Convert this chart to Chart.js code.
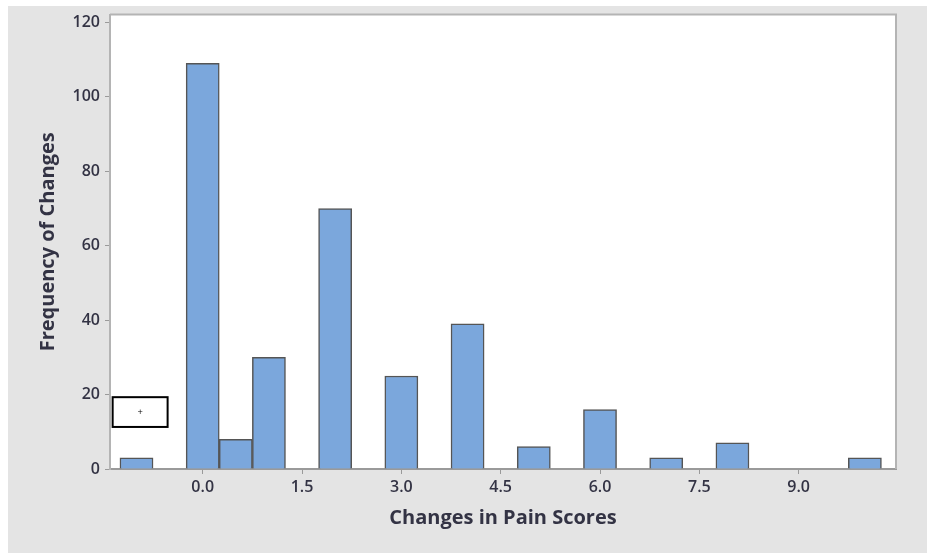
<!DOCTYPE html>
<html>
<head>
<meta charset="utf-8">
<script src="https://cdn.jsdelivr.net/npm/chart.js@4.4.1/dist/chart.umd.min.js"></script>
<style>
  html, body { margin: 0; padding: 0; background: #fff; }
  #wrap { width: 927px; height: 553px; position: relative; }
</style>
</head>
<body>
<div id="wrap"><canvas id="hist" width="927" height="553"></canvas></div>
<script>
// histogram bins (centre of each bar) and counts
const binCenters = [-1.0, 0.0, 0.5, 1.0, 2.0, 3.0, 4.0, 5.0, 6.0, 7.0, 8.0, 10.0];
const frequencies = [3, 109, 8, 30, 70, 25, 39, 6, 16, 3, 7, 3];
const xTickValues = [0.0, 1.5, 3.0, 4.5, 6.0, 7.5, 9.0];
const yTickValues = [0, 20, 40, 60, 80, 100, 120];

const ctx = document.getElementById('hist').getContext('2d');

// page background: white strip, then the grey panel
const backdrop = {
  id: 'backdrop',
  beforeDraw(chart) {
    const c = chart.ctx;
    c.save();
    c.fillStyle = '#ffffff';
    c.fillRect(0, 0, chart.width, chart.height);
    c.fillStyle = '#e4e4e4';
    c.fillRect(8, 6, chart.width - 8, chart.height - 6);
    const a = chart.chartArea;
    c.fillStyle = '#ffffff';
    c.fillRect(a.left, a.top, a.right - a.left, a.bottom - a.top);
    c.restore();
  },
  afterDraw(chart) {
    const c = chart.ctx;
    const a = chart.chartArea;
    c.save();
    c.strokeStyle = '#b4b4b4';
    c.lineWidth = 2;
    c.beginPath();
    c.moveTo(a.left, a.top);
    c.lineTo(a.right, a.top);
    c.lineTo(a.right, a.bottom);
    c.stroke();
    // the little stray box sitting in the plot
    const x = chart.scales.x, y = chart.scales.y;
    const x0 = x.getPixelForValue(-1.36), x1 = x.getPixelForValue(-0.53);
    const y0 = y.getPixelForValue(19.3), y1 = y.getPixelForValue(11.3);
    c.strokeStyle = '#000';
    c.lineWidth = 2;
    c.strokeRect(x0, y0, x1 - x0, y1 - y0);
    c.fillStyle = '#000';
    c.font = '7px "DejaVu Sans"';
    c.textAlign = 'center';
    c.textBaseline = 'middle';
    c.fillText('+', (x0 + x1) / 2, (y0 + y1) / 2);
    c.restore();
  }
};

const tickFont = { family: '"Open Sans"', size: 16, weight: '600' };
const titleFont = { family: '"Open Sans"', size: 20, weight: 'bold' };

const chart = new Chart(ctx, {
  type: 'bar',
  data: {
    datasets: [{
      data: binCenters.map((v, i) => ({ x: v, y: frequencies[i] })),
      backgroundColor: '#7ba7dc',
      borderColor: '#555555',
      borderWidth: 1.5,
      barPercentage: 1,
      categoryPercentage: 1
    }]
  },
  options: {
    responsive: false,
    animation: false,
    layout: { padding: { left: 8, top: 14, right: 31, bottom: 0 } },
    plugins: { legend: { display: false }, tooltip: { enabled: false } },
    scales: {
      x: {
        type: 'linear',
        min: -1.4,
        max: 10.47,
        offset: false,
        afterFit: s => { s.height = 84; },
        afterBuildTicks: s => { s.ticks = xTickValues.map(v => ({ value: v })); },
        grid: { drawOnChartArea: false, drawTicks: true, tickLength: 5, color: '#9a9a9a', offset: false },
        border: { color: '#9a9a9a', width: 2 },
        ticks: {
          padding: 4,
          color: '#333344',
          font: tickFont,
          callback: v => v.toFixed(1)
        },
        title: {
          display: true,
          text: 'Changes in Pain Scores',
          color: '#333344',
          font: titleFont,
          padding: { top: 0, bottom: 23 }
        }
      },
      y: {
        min: 0,
        max: 122.1,
        afterFit: s => { s.width = 102; },
        afterBuildTicks: s => { s.ticks = yTickValues.map(v => ({ value: v })); },
        grid: { drawOnChartArea: false, drawTicks: true, tickLength: 5, color: '#9a9a9a' },
        border: { color: '#b4b4b4', width: 2 },
        ticks: {
          padding: 5,
          color: '#333344',
          font: tickFont
        },
        title: {
          display: true,
          text: 'Frequency of Changes',
          color: '#333344',
          font: titleFont,
          padding: { top: 28, bottom: 0 }
        }
      }
    }
  },
  plugins: [backdrop]
});
</script>
</body>
</html>
